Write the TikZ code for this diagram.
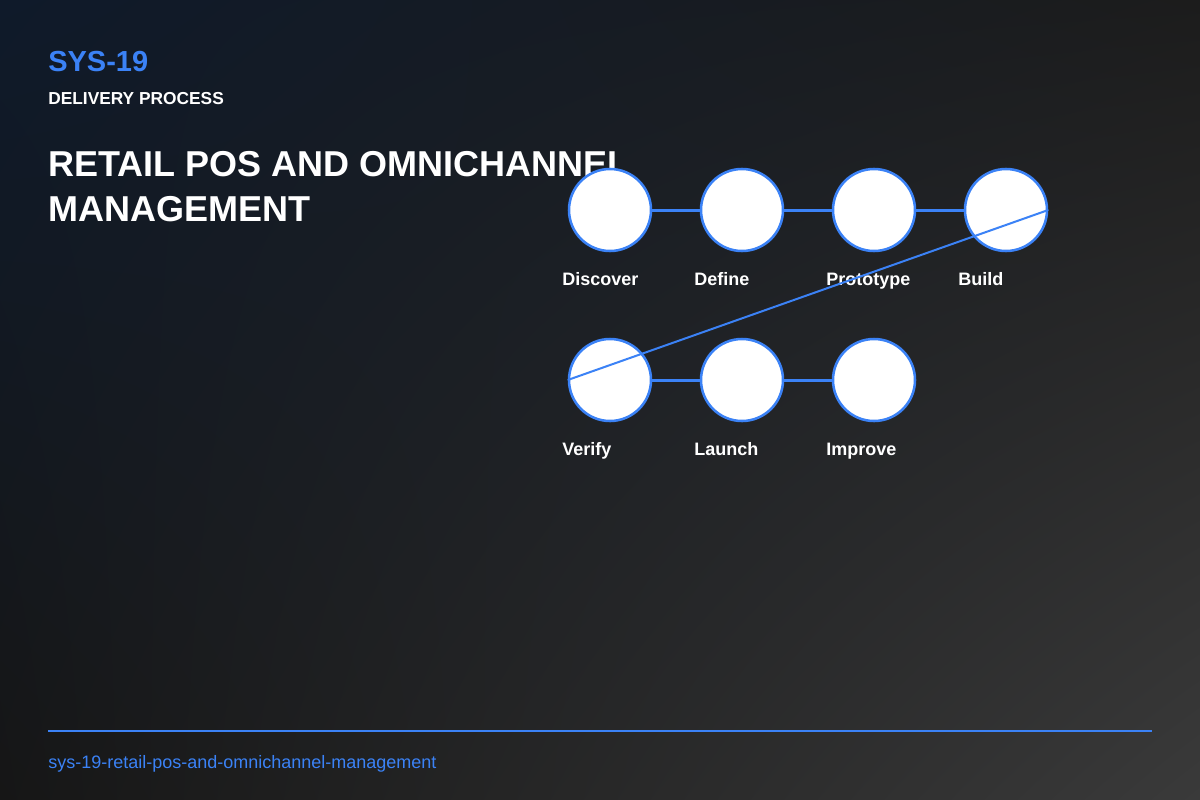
\documentclass[tikz,border=0pt]{standalone}
\usepackage{fontspec}
\setmainfont{Liberation Sans}
\usetikzlibrary{shadings}
\definecolor{accentblue}{HTML}{3B82F6}
\definecolor{bgnavy}{HTML}{0F1A2A}
\definecolor{bgdark}{HTML}{1C1C1C}
\definecolor{bgdeep}{HTML}{161616}
\definecolor{bglight}{HTML}{3A3A3A}
\tikzset{
    base_text/.style={inner sep=0pt, anchor=base west, text=white, font=\bfseries},
    code_text/.style={base_text, text=accentblue, font=\fontsize{21.75pt}{26pt}\selectfont\bfseries},
    kicker_text/.style={base_text, font=\fontsize{13pt}{16pt}\selectfont\bfseries},
    title_text/.style={base_text, font=\fontsize{27pt}{32pt}\selectfont\bfseries},
    phase_node/.style={circle, minimum size=61.5pt, inner sep=0pt, draw=accentblue, line width=1.9pt, fill=white},
    phase_label/.style={base_text, font=\fontsize{13.5pt}{16pt}\selectfont\bfseries},
    phase_link/.style={draw=accentblue, line width=2.25pt},
    wrap_link/.style={draw=accentblue, line width=1.5pt},
    footer_rule/.style={draw=accentblue, line width=1.5pt},
    footer_text/.style={inner sep=0pt, anchor=base west, text=accentblue, font=\fontsize{13.5pt}{16pt}\selectfont}
}

\begin{document}
\begin{tikzpicture}[x=0.75pt, y=-0.75pt]
\shade[upper left=bgnavy, upper right=bgdark, lower left=bgdeep, lower right=bglight]
    (0,0) rectangle (1200,800);
\useasboundingbox (0,0) rectangle (1200,800);

% header
\node[code_text]   (sys_code)  at (48,  71) {SYS-19};
\node[kicker_text] (kicker)    at (48, 104) {DELIVERY PROCESS};
\node[title_text]  (title_one) at (48, 176) {RETAIL POS AND OMNICHANNEL};
\node[title_text]  (title_two) at (48, 221) {MANAGEMENT};

% phases
\node[phase_node] (discover)  at ( 610, 210) {};
\node[phase_node] (define)    at ( 742, 210) {};
\node[phase_node] (prototype) at ( 874, 210) {};
\node[phase_node] (build)     at (1006, 210) {};
\node[phase_node] (verify)    at ( 610, 380) {};
\node[phase_node] (launch)    at ( 742, 380) {};
\node[phase_node] (improve)   at ( 874, 380) {};

\node[phase_label] (discover_label)  at (562, 285) {Discover};
\node[phase_label] (define_label)    at (694, 285) {Define};
\node[phase_label] (prototype_label) at (826, 285) {Prototype};
\node[phase_label] (build_label)     at (958, 285) {Build};
\node[phase_label] (verify_label)    at (562, 455) {Verify};
\node[phase_label] (launch_label)    at (694, 455) {Launch};
\node[phase_label] (improve_label)   at (826, 455) {Improve};

\foreach \a/\b in {discover/define, define/prototype, prototype/build, verify/launch, launch/improve} {
    \draw[phase_link] (\a) -- (\b);
}

\draw[wrap_link] (build.east) -- (verify.west);

% footer
\coordinate (rule_start) at (48, 731);
\coordinate (rule_end)   at (1152, 731);
\draw[footer_rule] (rule_start) -- (rule_end);
\node[footer_text] (slug) at (48, 768) {sys-19-retail-pos-and-omnichannel-management};

\end{tikzpicture}
\end{document}
